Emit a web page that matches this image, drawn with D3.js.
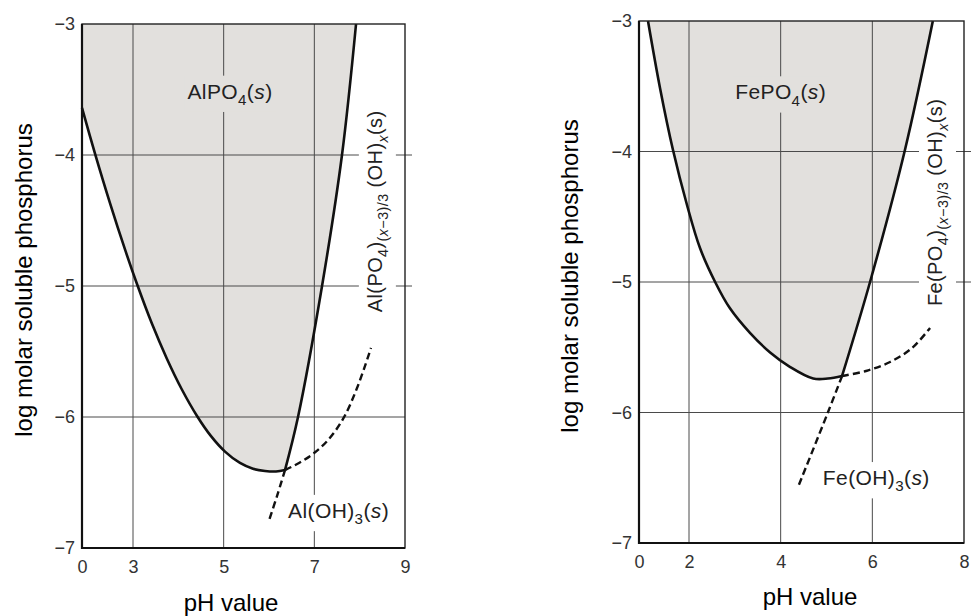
<!DOCTYPE html>
<html>
<head>
<meta charset="utf-8">
<script src="https://d3js.org/d3.v7.min.js"></script>
<style>
  body { margin: 0; background: #fff; }
  svg text { font-family: "Liberation Sans", Arial, Helvetica, sans-serif; }
</style>
</head>
<body>
<svg width="971" height="616"></svg>
<script>
// shared y axis (log molar soluble phosphorus)
var ticksY = [-3, -4, -5, -6, -7];
var gridY = [-4, -5, -6];

// ---- aluminium panel ----
var alTicksX = [0, 3, 5, 7, 9];
var alGridX = [3, 5, 7];
// AlPO4(s) boundary, solid part
var alPO4pH   = [0, 0.765, 1.647, 2.529, 3.088, 3.419, 3.75, 4.081, 4.412, 4.721, 5.03, 5.36, 5.647, 5.912, 6.155, 6.353];
var alPO4logP = [-3.641, -3.989, -4.367, -4.721, -4.985, -5.289, -5.557, -5.792, -5.992, -6.146, -6.264, -6.351, -6.395, -6.412, -6.416, -6.405];
// Al(PO4)(x-3)/3(OH)x(s) boundary, solid part
var alMixPH   = [6.353, 6.64, 7.17, 7.61, 7.92];
var alMixLogP = [-6.405, -6.0, -5.0, -4.0, -3.0];
// dashed continuations
var alOHdashPH    = [6.353, 6.18, 6.0];
var alOHdashLogP  = [-6.405, -6.60, -6.79];
var alPO4dashPH   = [6.353, 6.662, 6.971, 7.302, 7.633, 7.942, 8.25];
var alPO4dashLogP = [-6.405, -6.351, -6.282, -6.176, -6.015, -5.779, -5.473];

// ---- iron panel ----
var feTicksX = [0, 2, 4, 6, 8];
var feGridX = [2, 4, 6];
var fePO4pH   = [0.36, 0.84, 1.36, 1.92, 2.24, 2.57, 2.89, 3.33, 3.77, 4.20, 4.71, 5.03, 5.34];
var fePO4logP = [-3.0, -3.513, -3.989, -4.41, -4.74, -5.0, -5.20, -5.39, -5.54, -5.65, -5.74, -5.74, -5.72];
var feMixPH   = [5.34, 5.95, 6.71, 7.32];
var feMixLogP = [-5.72, -5.0, -3.99, -3.0];
var feOHdashPH    = [5.34, 5.03, 4.38];
var feOHdashLogP  = [-5.72, -6.0, -6.57];
var fePO4dashPH   = [5.34, 5.862, 6.386, 6.866, 7.259];
var fePO4dashLogP = [-5.72, -5.682, -5.613, -5.506, -5.352];

var svg = d3.select("svg");
var shade = "#e2e0dd";

// text with sub/italic pieces: parts = [[text, "sub"|"it"|""], ...]
function rich(parent, parts, size) {
  var t = parent.append("text").style("font-size", size + "px").attr("fill", "#222")
    .style("letter-spacing", "0.4px");
  var shift = 0;
  parts.forEach(function(p) {
    var s = t.append("tspan").text(p[0]);
    var want = p[1].indexOf("sub") >= 0 ? size * 0.3 : 0;
    if (want != shift) { s.attr("dy", want - shift); shift = want; }
    if (p[1].indexOf("sub") >= 0) s.style("font-size", (size * 0.72) + "px");
    if (p[1].indexOf("it") >= 0) s.style("font-style", "italic");
  });
  return t;
}

function label(g, parts, px, py, opts) {
  var lg = g.append("g").attr("transform", "translate(" + px + "," + py + ")" + (opts.rotate ? " rotate(-90)" : ""));
  var t = rich(lg, parts, opts.size || 21).attr("text-anchor", opts.anchor || "start");
  var b = t.node().getBBox();
  lg.insert("rect", "text")
    .attr("x", b.x - (opts.padX || 3)).attr("y", b.y - (opts.padY || 3))
    .attr("width", b.width + 2 * (opts.padX || 3)).attr("height", b.height + 2 * (opts.padY || 3))
    .attr("fill", opts.bg);
}

function panel(c) {
  var g = svg.append("g").attr("transform", "translate(" + c.left + "," + c.top + ")");
  var x = d3.scaleLinear().domain(c.xDomain).range(c.xRange);
  var y = d3.scaleLinear().domain([-7, -3]).range([c.height, 0]);
  var w = c.xRange[c.xRange.length - 1];
  var line = d3.line().x(d => x(d[0])).y(d => y(d[1])).curve(d3.curveCatmullRom);

  var u = d3.zip(c.uPH, c.uLog), m = d3.zip(c.mPH, c.mLog);
  var fillD = line(u) + line(m).replace(/^M/, "L") + "L" + x(u[0][0]) + "," + y(-3) + "Z";
  g.append("path").attr("d", fillD).attr("fill", shade);

  // grid
  g.selectAll(".gx").data(c.gridX).enter().append("line")
    .attr("x1", d => x(d)).attr("x2", d => x(d)).attr("y1", 0).attr("y2", c.height)
    .attr("stroke", "#4a4a4a").attr("stroke-width", 1);
  g.selectAll(".gy").data(gridY).enter().append("line")
    .attr("x1", 0).attr("x2", d => d > -6 ? w + 7 : w).attr("y1", d => y(d)).attr("y2", d => y(d))
    .attr("stroke", "#4a4a4a").attr("stroke-width", 1);

  // labels (their backgrounds break the grid lines)
  c.labels.forEach(function(l) {
    label(g, l.parts, x(l.pH), y(l.logP), l);
  });

  // curves
  g.append("path").attr("d", line(u)).attr("fill", "none").attr("stroke", "#111").attr("stroke-width", 2.6);
  g.append("path").attr("d", line(m)).attr("fill", "none").attr("stroke", "#111").attr("stroke-width", 2.6);
  c.dashed.forEach(function(dd) {
    g.append("path").attr("d", line(d3.zip(dd[0], dd[1]))).attr("fill", "none")
      .attr("stroke", "#111").attr("stroke-width", 2.4).attr("stroke-dasharray", "7,4");
  });

  // frame
  g.append("rect").attr("width", w).attr("height", c.height).attr("fill", "none")
    .attr("stroke", "#222").attr("stroke-width", 1.4);
  g.append("path").attr("d", "M0,0V" + c.height + "H" + w).attr("fill", "none")
    .attr("stroke", "#111").attr("stroke-width", 2.2);

  // axes
  var ya = g.append("g").call(d3.axisLeft(y).tickValues(ticksY).tickFormat(d3.format("d")).tickSize(0).tickPadding(7));
  var xa = g.append("g").attr("transform", "translate(0," + c.height + ")")
    .call(d3.axisBottom(x).tickValues(c.ticksX).tickFormat(d3.format("d")).tickSize(0).tickPadding(12));
  [ya, xa].forEach(function(a) {
    a.select(".domain").remove();
    a.selectAll("text").style("font-size", "18px").attr("fill", "#333");
  });

  g.append("text").attr("transform", "translate(" + c.yTitle[0] + "," + c.yTitle[1] + ") rotate(-90)")
    .attr("text-anchor", "middle").attr("dy", "0.35em").style("font-size", "24px").attr("fill", "#000")
    .text("log molar soluble phosphorus");
  g.append("text").attr("x", c.xTitle[0]).attr("y", c.xTitle[1])
    .attr("text-anchor", "middle").style("font-size", "24px").attr("fill", "#000")
    .text("pH value");
}

panel({
  left: 82, top: 24, height: 524,
  xDomain: [0, 3, 9], xRange: [0, 51, 323],
  ticksX: alTicksX, gridX: alGridX,
  uPH: alPO4pH, uLog: alPO4logP, mPH: alMixPH, mLog: alMixLogP,
  dashed: [[alOHdashPH, alOHdashLogP], [alPO4dashPH, alPO4dashLogP]],
  yTitle: [-58, 256], xTitle: [149, 587],
  labels: [
    {parts: [["AlPO", ""], ["4", "sub"], ["(", ""], ["s", "it"], [")", ""]], pH: 5.14, logP: -3.57, anchor: "middle", bg: shade, padY: 4},
    {parts: [["Al(PO", ""], ["4", "sub"], [")", ""], ["(", "sub"], ["x", "sub it"], ["−3)/3", "sub"], [" (OH)", ""], ["x", "sub it"], ["(s)", ""]],
      pH: 8.49, logP: -4.43, anchor: "middle", rotate: true, size: 20, bg: "#fff", padX: 1, padY: 5},
    {parts: [["Al(OH)", ""], ["3", "sub"], ["(", ""], ["s", "it"], [")", ""]], pH: 6.42, logP: -6.77, anchor: "start", bg: "#fff", padY: 4}
  ]
});

panel({
  left: 639, top: 21, height: 522,
  xDomain: [0, 2, 8], xRange: [0, 50, 325],
  ticksX: feTicksX, gridX: feGridX,
  uPH: fePO4pH, uLog: fePO4logP, mPH: feMixPH, mLog: feMixLogP,
  dashed: [[feOHdashPH, feOHdashLogP], [fePO4dashPH, fePO4dashLogP]],
  yTitle: [-69, 255], xTitle: [171, 584],
  labels: [
    {parts: [["FePO", ""], ["4", "sub"], ["(", ""], ["s", "it"], [")", ""]], pH: 4.0, logP: -3.6, anchor: "middle", bg: shade, padY: 4},
    {parts: [["Fe(PO", ""], ["4", "sub"], [")", ""], ["(", "sub"], ["x", "sub it"], ["−3)/3", "sub"], [" (OH)", ""], ["x", "sub it"], ["(s)", ""]],
      pH: 7.52, logP: -4.39, anchor: "middle", rotate: true, size: 20, bg: "#fff", padX: 1, padY: 5},
    {parts: [["Fe(OH)", ""], ["3", "sub"], ["(", ""], ["s", "it"], [")", ""]], pH: 4.92, logP: -6.556, anchor: "start", bg: "#fff", padY: 4}
  ]
});
</script>
</body>
</html>
